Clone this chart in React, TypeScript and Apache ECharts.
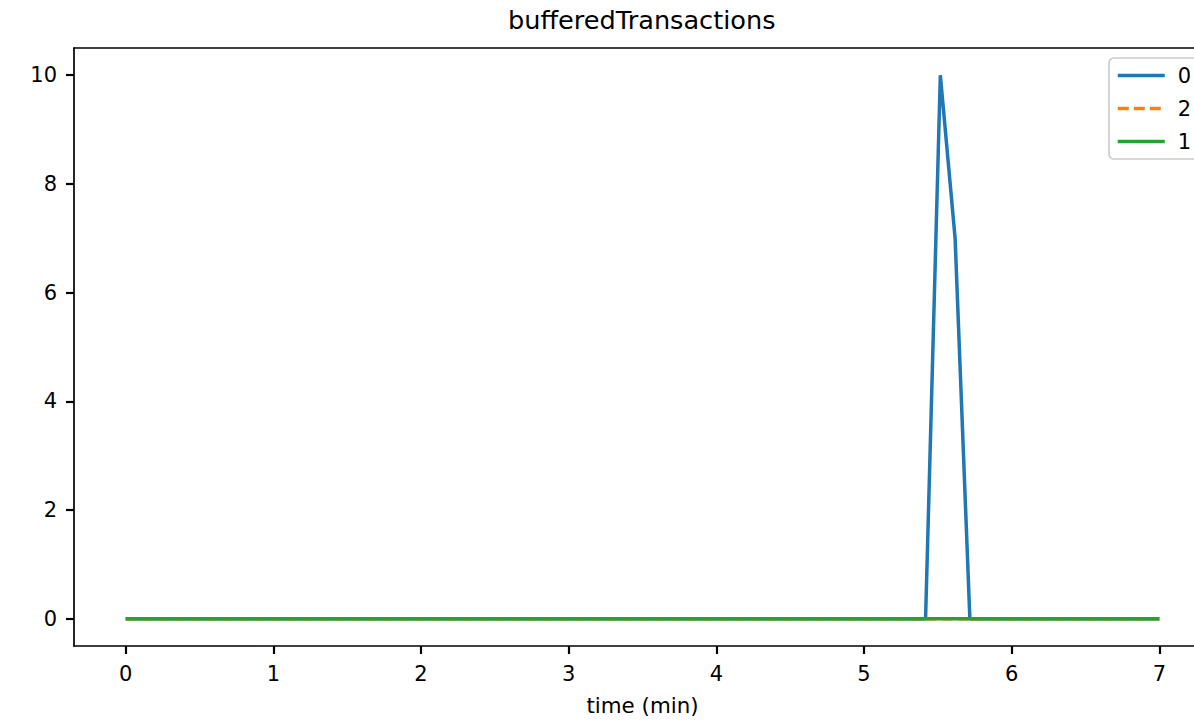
import React, { useEffect, useRef } from "react";
import * as echarts from "echarts";

const TITLE = "bufferedTransactions";
const X_NAME = "time (min)";
const SERIES_NAMES = ["0", "2", "1"];
const COLORS = ["#1f77b4", "#ff7f0e", "#2ca02c"];
const TIMES_0 = [0, 5.417, 5.517, 5.617, 5.717, 7];
const VALUES_0 = [0, 0, 10, 7, 0, 0];
const TIMES_2 = [0, 7];
const VALUES_2 = [0, 0];
const TIMES_1 = [0, 7];
const VALUES_1 = [0, 0];
const X_TICKS = [0, 1, 2, 3, 4, 5, 6, 7];
const Y_TICKS = [0, 2, 4, 6, 8, 10];

const FONT = "DejaVu Sans";

export default function App() {
  const ref = useRef<HTMLDivElement>(null);
  useEffect(() => {
    if (!ref.current) return;
    const chart = echarts.init(ref.current, undefined, { renderer: "svg" });
    const pairs = (xs: number[], ys: number[]) => xs.map((x, i) => [x, ys[i]]);
    const data = [pairs(TIMES_0, VALUES_0), pairs(TIMES_2, VALUES_2), pairs(TIMES_1, VALUES_1)];
    const tick = (vals: number[]) => ({
      show: true,
      inside: false,
      customValues: vals,
      length: 8,
      lineStyle: { color: "#000000", width: 2.2 },
    });
    const label = (vals: number[]) => ({
      customValues: vals,
      margin: 17,
      fontFamily: FONT,
      fontSize: 21,
      color: "#000",
      formatter: (v: number) => String(v),
    });
    const spine = { show: true, onZero: false, lineStyle: { color: "#000", width: 1.7 } };
    chart.setOption({
      animation: false,
      backgroundColor: "#ffffff",
      textStyle: { fontFamily: FONT },
      title: {
        text: TITLE,
        left: 508,
        top: 7,
        padding: 0,
        textStyle: { fontFamily: FONT, fontSize: 25.6, fontWeight: "normal", color: "#000" },
      },
      grid: {
        left: 74,
        top: 48,
        width: 1137,
        height: 599,
        show: false,
      },
      legend: {
        orient: "vertical",
        left: 1109,
        top: 58,
        data: SERIES_NAMES,
        itemWidth: 47,
        itemHeight: 12,
        itemGap: 12,
        padding: [7, 30, 7, 7],
        backgroundColor: "rgba(255,255,255,0.8)",
        borderColor: "#cccccc",
        borderWidth: 1.7,
        borderRadius: 5,
        itemStyle: { opacity: 0 },
        lineStyle: { width: 3.5 },
        textStyle: { fontFamily: FONT, fontSize: 21, color: "#000", padding: [0, 0, 0, 8] },
      },
      xAxis: [
        {
          type: "value",
          position: "bottom",
          z: 10,
          min: -0.35,
          max: 7.35,
          name: X_NAME,
          nameLocation: "middle",
          nameGap: 49,
          nameTextStyle: { fontFamily: FONT, fontSize: 21.4, color: "#000" },
          splitLine: { show: false },
          axisLine: spine,
          axisTick: tick(X_TICKS),
          axisLabel: label(X_TICKS),
        },
        {
          type: "value",
          position: "top",
          min: -0.35,
          max: 7.35,
          splitLine: { show: false },
          axisLine: spine,
          axisTick: { show: false },
          axisLabel: { show: false },
        },
      ],
      yAxis: [
        {
          type: "value",
          position: "left",
          z: 10,
          min: -0.5,
          max: 10.5,
          splitLine: { show: false },
          axisLine: spine,
          axisTick: tick(Y_TICKS),
          axisLabel: label(Y_TICKS),
        },
        {
          type: "value",
          position: "right",
          min: -0.5,
          max: 10.5,
          splitLine: { show: false },
          axisLine: spine,
          axisTick: { show: false },
          axisLabel: { show: false },
        },
      ],
      series: SERIES_NAMES.map((name, i) => ({
        name,
        type: "line",
        data: data[i],
        symbol: "none",
        showSymbol: false,
        color: COLORS[i],
        lineStyle: {
          color: COLORS[i],
          width: 3.5,
          type: i === 1 ? [11, 5] : "solid",
          cap: "butt",
        },
        itemStyle: { color: COLORS[i] },
        z: 2 + i,
      })),
    });
    return () => chart.dispose();
  }, []);
  return (
    <div style={{ position: "fixed", left: 0, top: 0, width: 1194, height: 721, overflow: "hidden" }}>
      <div ref={ref} style={{ width: 1240, height: 721 }} />
    </div>
  );
}
